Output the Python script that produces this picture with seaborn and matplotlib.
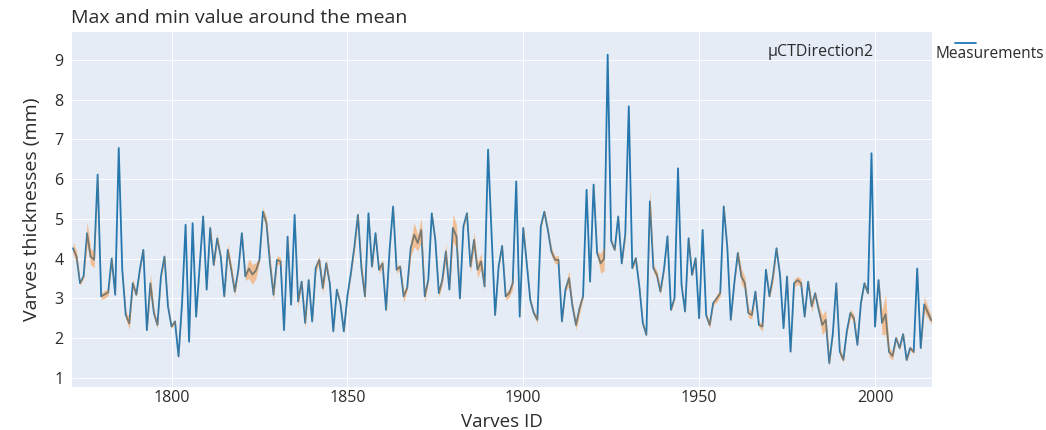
import matplotlib
matplotlib.use("Agg")
import matplotlib.pyplot as plt
from matplotlib.lines import Line2D
import seaborn as sns
import numpy as np
import pandas as pd

# ---- data ----
first_id, last_id = 1772, 2016
varve_ids = list(range(first_id, last_id + 1))

thickness = [
    4.26, 4.05, 3.38, 3.55, 4.64, 4.05, 3.97, 6.11,                  # 1772-1779
    3.05, 3.1, 3.15, 4.0, 3.09, 6.78, 3.72, 2.58, 2.37, 3.38,        # 1780s
    3.09, 3.72, 4.22, 2.2, 3.38, 2.63, 2.33, 3.55, 4.05, 2.8,        # 1790s
    2.29, 2.42, 1.54, 2.88, 4.85, 1.91, 4.89, 2.54, 3.8, 5.06,       # 1800s
    3.22, 4.77, 3.84, 4.51, 4.05, 3.05, 4.22, 3.72, 3.17, 3.72,      # 1810s
    4.64, 3.55, 3.75, 3.6, 3.7, 3.97, 5.18, 4.89, 3.88, 3.09,        # 1820s
    3.97, 3.93, 2.2, 4.55, 2.84, 5.1, 2.92, 3.42, 2.38, 3.46,        # 1830s
    2.42, 3.76, 3.97, 3.26, 3.88, 3.38, 2.17, 3.22, 2.88, 2.17,      # 1840s
    3.05, 3.63, 4.3, 5.1, 3.76, 3.05, 5.14, 3.8, 4.64, 3.72,         # 1850s
    3.88, 2.71, 4.22, 5.31, 3.72, 3.8, 3.05, 3.26, 4.26, 4.6,        # 1860s
    4.39, 4.72, 3.05, 3.46, 5.14, 4.47, 3.13, 3.46, 4.18, 3.22,      # 1870s
    4.77, 4.56, 3.0, 4.81, 5.14, 3.8, 4.47, 3.72, 3.93, 3.3,         # 1880s
    6.74, 4.6, 2.58, 3.8, 4.32, 3.05, 3.13, 3.38, 5.94, 2.54,        # 1890s
    4.77, 3.88, 2.96, 2.63, 2.46, 4.81, 5.18, 4.72, 4.18, 3.97,      # 1900s
    3.97, 2.42, 3.22, 3.51, 2.8, 2.33, 2.75, 3.05, 5.73, 3.42,       # 1910s
    5.86, 4.14, 3.88, 4.0, 9.13, 4.45, 4.22, 5.06, 3.88, 4.6,        # 1920s
    7.83, 3.76, 4.01, 3.3, 2.38, 2.08, 5.44, 3.76, 3.59, 3.17,       # 1930s
    3.72, 4.56, 2.71, 3.0, 6.27, 3.34, 2.67, 4.51, 3.59, 4.01,       # 1940s
    2.5, 4.72, 2.58, 2.33, 2.88, 3.0, 3.13, 5.31, 4.3, 2.46,         # 1950s
    3.38, 4.14, 3.55, 3.38, 2.63, 2.58, 3.17, 2.33, 2.29, 3.72,      # 1960s
    3.05, 3.55, 4.26, 3.59, 2.25, 3.55, 1.66, 3.38, 3.46, 3.38,      # 1970s
    2.54, 3.42, 2.8, 3.13, 2.71, 2.33, 2.46, 1.37, 2.1, 3.38,        # 1980s
    1.66, 1.45, 2.17, 2.63, 2.5, 1.83, 2.88, 3.38, 3.13, 6.65,       # 1990s
    2.29, 3.46, 2.38, 2.6, 1.65, 1.55, 2.0, 1.75, 2.1, 1.45,         # 2000s
    1.75, 1.65, 3.75, 1.75, 2.85, 2.65, 2.45,                        # 2010-2016
]

# half-width of the max/min envelope around the mean
spread = [
    .15, .15, .05, .05, .3, .2, .2, .1,
    .08, .1, .08, .1, .05, .05, .05, .1, .15, .12,
    .05, .05, .05, .05, .25, .1, .08, .05, .1, .05,
    .05, .05, .05, .05, .05, .05, .05, .05, .05, .05,
    .05, .1, .08, .1, .05, .05, .15, .15, .1, .05,
    .05, .1, .25, .25, .2, .05, .1, .15, .15, .15,
    .1, .1, .05, .12, .05, .05, .15, .05, .15, .05,
    .05, .1, .1, .15, .12, .05, .05, .05, .05, .05,
    .05, .05, .12, .1, .15, .15, .05, .1, .05, .1,
    .1, .08, .05, .05, .1, .05, .15, .05, .2, .3,
    .2, .3, .15, .05, .05, .05, .1, .1, .2, .05,
    .35, .3, .05, .05, .05, .15, .2, .2, .2, .1,
    .05, .05, .05, .05, .05, .1, .1, .15, .05, .1,
    .1, .05, .05, .05, .1, .05, .05, .05, .1, .1,
    .1, .05, .05, .2, .1, .12, .15, .05, .05, .05,
    .08, .05, .25, .3, .05, .05, .05, .05, .05, .1,
    .05, .05, .05, .05, .05, .05, .3, .1, .1, .08,
    .05, .05, .05, .05, .05, .05, .05, .1, .05, .05,
    .05, .05, .05, .1, .05, .1, .08, .08, .05, .05,
    .05, .1, .2, .15, .12, .1, .05, .05, .12, .05,
    .05, .15, .05, .05, .05, .08, .05, .1, .1, .1,
    .05, .05, .15, .05, .1, .25, .25, .08, .05, .08,
    .12, .05, .05, .1, .1, .05, .05, .05, .05, .05,
    .05, .05, .3, .5, .12, .1, .05, .05, .05, .05,
    .05, .05, .05, .05, .2, .15, .1,
]

y_ticks = [1, 2, 3, 4, 5, 6, 7, 8, 9]
x_ticks = [1800, 1850, 1900, 1950, 2000]
title = "Max and min value around the mean"
series_name = "Measurements"
annotation = "µCTDirection2"

df = pd.DataFrame({"id": varve_ids, "thickness": thickness, "spread": spread})
df["lo"] = df["thickness"] - df["spread"]
df["hi"] = df["thickness"] + df["spread"]

# ---- style ----
sns.set_style("white")
plt.rcParams["font.family"] = ["Open Sans", "DejaVu Sans"]

BLUE = "#1f77b4"
ORANGE = "#ff7f0e"
BG = "#E5ECF6"
TXT = "#2b2b2b"

fig = plt.figure(figsize=(10.46, 4.30), dpi=100)
ax = fig.add_axes([0.0688, 0.10, 0.8222, 0.8256])
ax.set_facecolor(BG)

sns.lineplot(data=df, x="id", y="thickness", ax=ax, color=BLUE,
             linewidth=1.3, zorder=2, legend=False)
ax.fill_between(df["id"], df["lo"], df["hi"], color=ORANGE, alpha=0.42,
                linewidth=0, zorder=3)

ax.set_xlim(1771.7, 2016.2)
ax.set_ylim(0.77, 9.7)
ax.set_xticks(x_ticks)
ax.set_yticks(y_ticks)
ax.grid(True, color="white", linewidth=0.8, alpha=0.9)
ax.set_axisbelow(True)
for s in ax.spines.values():
    s.set_visible(False)
ax.tick_params(axis="both", length=0, labelsize=11.5, labelcolor=TXT)
ax.tick_params(axis="x", pad=2)
ax.tick_params(axis="y", pad=6)

ax.set_xlabel("Varves ID", fontsize=13.5, color=TXT, labelpad=5)
ax.set_ylabel("Varves thicknesses (mm)", fontsize=14, color=TXT, labelpad=10)

fig.text(0.068, 0.957, title, fontsize=14, color=TXT, ha="left", va="center")
ax.text(0.932, 0.945, annotation, transform=ax.transAxes, fontsize=11.5,
        color=TXT, ha="right", va="center")

# legend (handle above the label, as in the reference)
fig.add_artist(Line2D([0.913, 0.933], [0.9, 0.9], color=BLUE, linewidth=1.3,
                      transform=fig.transFigure))
fig.text(0.894, 0.875, series_name, fontsize=11.2, color=TXT,
         ha="left", va="center")

fig.savefig("out.png", dpi=100)
